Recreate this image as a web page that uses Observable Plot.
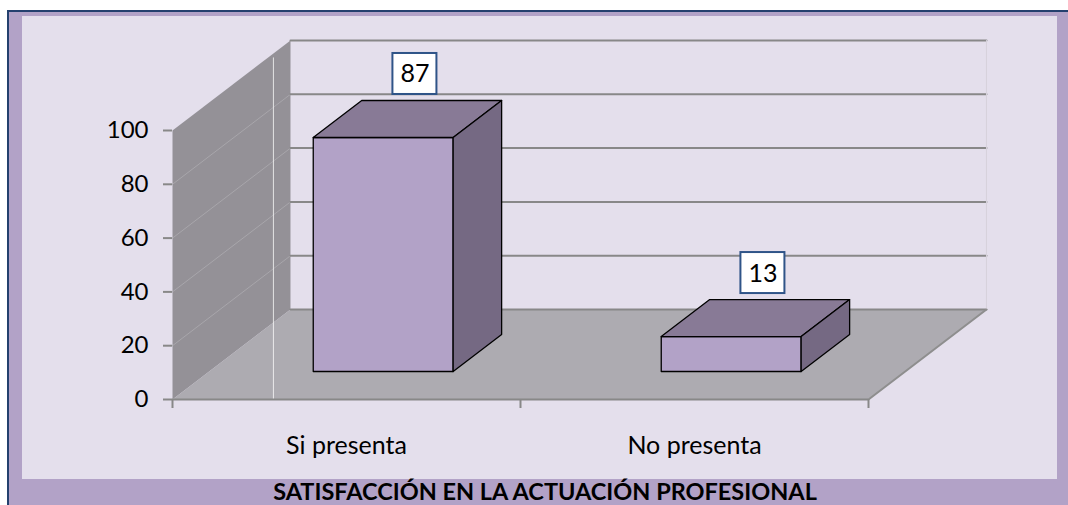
<!DOCTYPE html>
<html>
<head>
<meta charset="utf-8">
<script src="https://cdn.jsdelivr.net/npm/d3@7"></script>
<script src="https://cdn.jsdelivr.net/npm/@observablehq/plot@0.6"></script>
<style>
  html, body { margin: 0; padding: 0; background: #ffffff; }
  #wrap { position: relative; width: 1068px; height: 505px; overflow: hidden; font-family: Lato, "Open Sans", sans-serif; }
  #frame { position: absolute; left: 7px; top: 10px; width: 1100px; height: 540px; background: #B2A2C7; border-left: 2px solid #24406E; border-top: 2px solid #24406E; }
  #inner { position: absolute; left: 22px; top: 16px; width: 1035px; height: 463px; background: #E4DFEC; }
  #chart { position: absolute; left: 0; top: 0; }
  #title { position: absolute; left: 0; width: 1090px; top: 477px; text-align: center; font-weight: bold; font-size: 23.5px; color: #000; line-height: 28px; }
</style>
</head>
<body>
<div id="wrap">
  <div id="frame"></div>
  <div id="inner"></div>
  <div id="chart"></div>
  <div id="title"></div>
</div>
<script>
const categories = ["Si presenta", "No presenta"];
const values = [87, 13];
const yTicks = [0, 20, 40, 60, 80, 100];
const title = "SATISFACCIÓN EN LA ACTUACIÓN PROFESIONAL";

document.getElementById("title").textContent = title;

// 3D projection helpers (in data units)
const DX = 0.339, DY = 33.46;      // full depth offset
const D0 = 0.311, D1 = 0.722;      // bar depth range
const HW = 0.201;                  // bar half-width
const P = (x, v, d) => ({x: x + d * DX, y: v + d * DY});
const n = categories.length;

const poly = (pts, opts) => Plot.line([...pts, pts[0]], {x: "x", y: "y", ...opts});
const seg = (a, b, opts) => Plot.line([a, b], {x: "x", y: "y", ...opts});

const marks = [];
// side wall
marks.push(poly([P(0,0,0), P(0,100,0), P(0,100,1), P(0,0,1)], {fill: "#949197", stroke: "none"}));
// floor
marks.push(poly([P(0,0,0), P(n,0,0), P(n,0,1), P(0,0,1)], {fill: "#ADABB1", stroke: "none"}));
// side wall grid
for (const t of yTicks.slice(1, -1)) marks.push(seg(P(0,t,0), P(0,t,1), {stroke: "#A8A6AB", strokeWidth: 1}));
// back wall grid
for (const t of yTicks) marks.push(seg(P(0,t,1), P(n,t,1), {stroke: "#888888", strokeWidth: 2}));
// back wall right edge
marks.push(seg(P(n,0,1), P(n,100,1), {stroke: "#D6D2DC", strokeWidth: 1}));
// floor right edge
marks.push(seg(P(n,0,0), P(n,0,1), {stroke: "#8E8E8E", strokeWidth: 2}));
// faint vertical line
marks.push(seg({x: 0.29, y: 0}, {x: 0.29, y: 127}, {stroke: "#FFFFFF", strokeOpacity: 0.75, strokeWidth: 1}));
// x axis line
marks.push(Plot.ruleY([0], {x1: 0, x2: n, stroke: "#888888", strokeWidth: 2}));

// bars
values.forEach((v, i) => {
  const c = i + 0.5, l = c - HW, r = c + HW;
  marks.push(poly([P(l,0,D0), P(r,0,D0), P(r,v,D0), P(l,v,D0)], {fill: "#B2A2C7", stroke: "#000", strokeWidth: 1.3}));
  marks.push(poly([P(l,v,D0), P(r,v,D0), P(r,v,D1), P(l,v,D1)], {fill: "#887A96", stroke: "#000", strokeWidth: 1.3}));
  marks.push(poly([P(r,0,D0), P(r,0,D1), P(r,v,D1), P(r,v,D0)], {fill: "#756983", stroke: "#000", strokeWidth: 1.3}));
});

// labels
const labels = values.map((v, i) => ({x: i + 0.5 + 0.58 * DX, y: v + D1 * DY, t: String(v)}));
marks.push(Plot.rect(labels, {x1: "x", x2: "x", y1: "y", y2: "y", insetLeft: -22, insetRight: -22, insetTop: -47, insetBottom: 6, fill: "#FFFFFF", stroke: "#2F5488", strokeWidth: 2}));
marks.push(Plot.text(labels, {x: "x", y: "y", text: "t", dy: -26, fontSize: 25, fill: "#000"}));

// axes
marks.push(Plot.axisY({ticks: yTicks, tickSize: 9, tickPadding: 15, fontSize: 24, stroke: "#888888", strokeWidth: 2, color: "#000", tickFormat: d => String(d), label: null}));
marks.push(Plot.axisX({ticks: d3.range(n + 1), tickSize: 9, tickFormat: () => "", stroke: "#888888", strokeWidth: 2, label: null}));
marks.push(Plot.text(categories, {x: (d, i) => i + 0.5, y: 0, text: d => d, dy: 46, fontSize: 25, fill: "#000"}));

const chart = Plot.plot({
  width: 1068,
  height: 505,
  marginLeft: 172,
  marginRight: 200,
  marginTop: 130,
  marginBottom: 106,
  x: {domain: [0, n], label: null},
  y: {domain: [0, 100], label: null},
  style: {background: "transparent", overflow: "visible", fontFamily: "Lato, 'Open Sans', sans-serif", color: "#000"},
  marks
});
document.getElementById("chart").appendChild(chart);
</script>
</body>
</html>
